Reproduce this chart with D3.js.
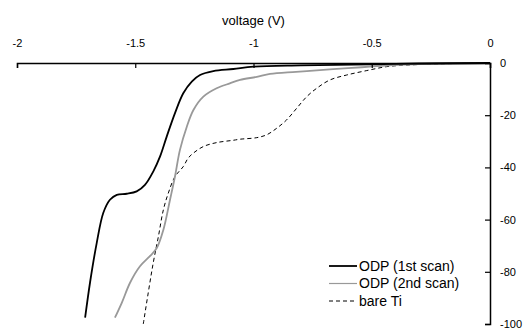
<!DOCTYPE html>
<html>
<head>
<meta charset="utf-8">
<script src="https://cdn.jsdelivr.net/npm/d3@7"></script>
<style>
  body { margin: 0; background: #fff; }
  text { font-family: "Liberation Sans", Arial, sans-serif; fill: #000; }
</style>
</head>
<body>
<svg id="plot"></svg>
<script>
// voltage (V) / current pairs
const scan1V = [-1.712, -1.691, -1.663, -1.635, -1.607, -1.578, -1.536, -1.494, -1.459, -1.424, -1.395, -1.367, -1.332, -1.297, -1.261, -1.226, -1.17, -1.085, -1.0, -0.8, -0.5, -0.3, 0];
const scan1I = [-97.6, -84, -69, -57.4, -52.4, -50.5, -50.1, -49.2, -46.7, -41.6, -35.8, -28.2, -19.2, -11.6, -7.1, -4.6, -3.1, -2.3, -1.4, -0.9, -0.5, -0.2, 0];

const scan2V = [-1.586, -1.557, -1.522, -1.48, -1.438, -1.409, -1.381, -1.353, -1.332, -1.311, -1.282, -1.254, -1.212, -1.156, -1.1, -1.057, -0.986, -0.93, -0.82, -0.719, -0.6, -0.507, -0.41, -0.3, 0];
const scan2I = [-97.6, -91.9, -84.2, -77.9, -74, -70.9, -63.9, -52.4, -43.5, -33.3, -24.4, -18, -12.9, -9.7, -7.8, -6.5, -5.3, -4.2, -3.4, -2.7, -2, -1.4, -0.8, -0.4, 0];

const tiV = [-1.466, -1.445, -1.424, -1.402, -1.381, -1.36, -1.332, -1.297, -1.276, -1.254, -1.212, -1.156, -1.085, -1.057, -0.986, -0.944, -0.902, -0.86, -0.817, -0.775, -0.733, -0.677, -0.606, -0.521, -0.437, -0.352, -0.2, 0];
const tiI = [-100, -88, -76.6, -66.4, -56.2, -49.8, -43.5, -39.7, -36.4, -34.5, -32, -30.5, -29.6, -29.2, -28.6, -27.5, -25, -21.8, -17.3, -12.9, -9.7, -6.5, -4.6, -2.9, -1.4, -0.8, -0.3, 0];

const xTicks = [-2, -1.5, -1, -0.5, 0];
const yTicks = [0, -20, -40, -60, -80, -100];
const seriesNames = ["ODP (1st scan)", "ODP (2nd scan)", "bare Ti"];

const W = 528, H = 329;
const svg = d3.select("#plot").attr("width", W).attr("height", H);

const x = d3.scaleLinear().domain([-2, 0]).range([17, 490]);
const y = d3.scaleLinear().domain([0, -100]).range([63, 324]);

const styles = [
  { stroke: "#000", width: 1.8, dash: null },
  { stroke: "#999", width: 1.8, dash: null },
  { stroke: "#000", width: 1, dash: "4,3" }
];

const toPts = (vs, is) => vs.map((v, i) => [v, is[i]]);
const series = [toPts(scan1V, scan1I), toPts(scan2V, scan2I), toPts(tiV, tiI)];

const line = d3.line()
  .x(d => x(d[0]))
  .y(d => y(d[1]))
  .curve(d3.curveCatmullRom.alpha(0.5));

// draw in reverse so the 1st scan sits on top
[2, 1, 0].forEach(k => {
  svg.append("path")
    .datum(series[k])
    .attr("fill", "none")
    .attr("stroke", styles[k].stroke)
    .attr("stroke-width", styles[k].width)
    .attr("stroke-dasharray", styles[k].dash)
    .attr("d", line);
});

const fmt = d => String(d);

// top axis
const xAxis = d3.axisBottom(x).tickValues(xTicks).tickSize(5).tickFormat(fmt);
const gx = svg.append("g").attr("transform", `translate(0,${y(0)})`).call(xAxis);
gx.select(".domain").attr("stroke-width", 1.5);
gx.selectAll(".tick line").attr("stroke-width", 1.2);
gx.selectAll(".tick text")
  .attr("y", -20)
  .attr("dy", "0.35em")
  .style("font-size", "11px");

svg.append("text")
  .attr("x", x(-1))
  .attr("y", 20)
  .attr("dy", "0.35em")
  .attr("text-anchor", "middle")
  .style("font-size", "13px")
  .text("voltage (V)");

// right axis
const yAxis = d3.axisLeft(y).tickValues(yTicks).tickSize(5).tickFormat(fmt);
const gy = svg.append("g").attr("transform", `translate(${x(0)},0)`).call(yAxis);
gy.select(".domain").attr("stroke-width", 1.5);
gy.selectAll(".tick line").attr("stroke-width", 1.2);
gy.selectAll(".tick text")
  .attr("x", 10)
  .attr("text-anchor", "start")
  .style("font-size", "11px");

// legend
const legend = svg.append("g").attr("transform", "translate(329,266)");
seriesNames.forEach((name, i) => {
  const row = legend.append("g").attr("transform", `translate(0,${i * 17.5})`);
  row.append("line")
    .attr("x1", 0).attr("x2", 28)
    .attr("stroke", styles[i].stroke)
    .attr("stroke-width", i === 1 ? 1.2 : styles[i].width)
    .attr("stroke-dasharray", styles[i].dash);
  row.append("text")
    .attr("x", 30)
    .attr("dy", "0.35em")
    .style("font-size", "14px")
    .text(name);
});
</script>
</body>
</html>
